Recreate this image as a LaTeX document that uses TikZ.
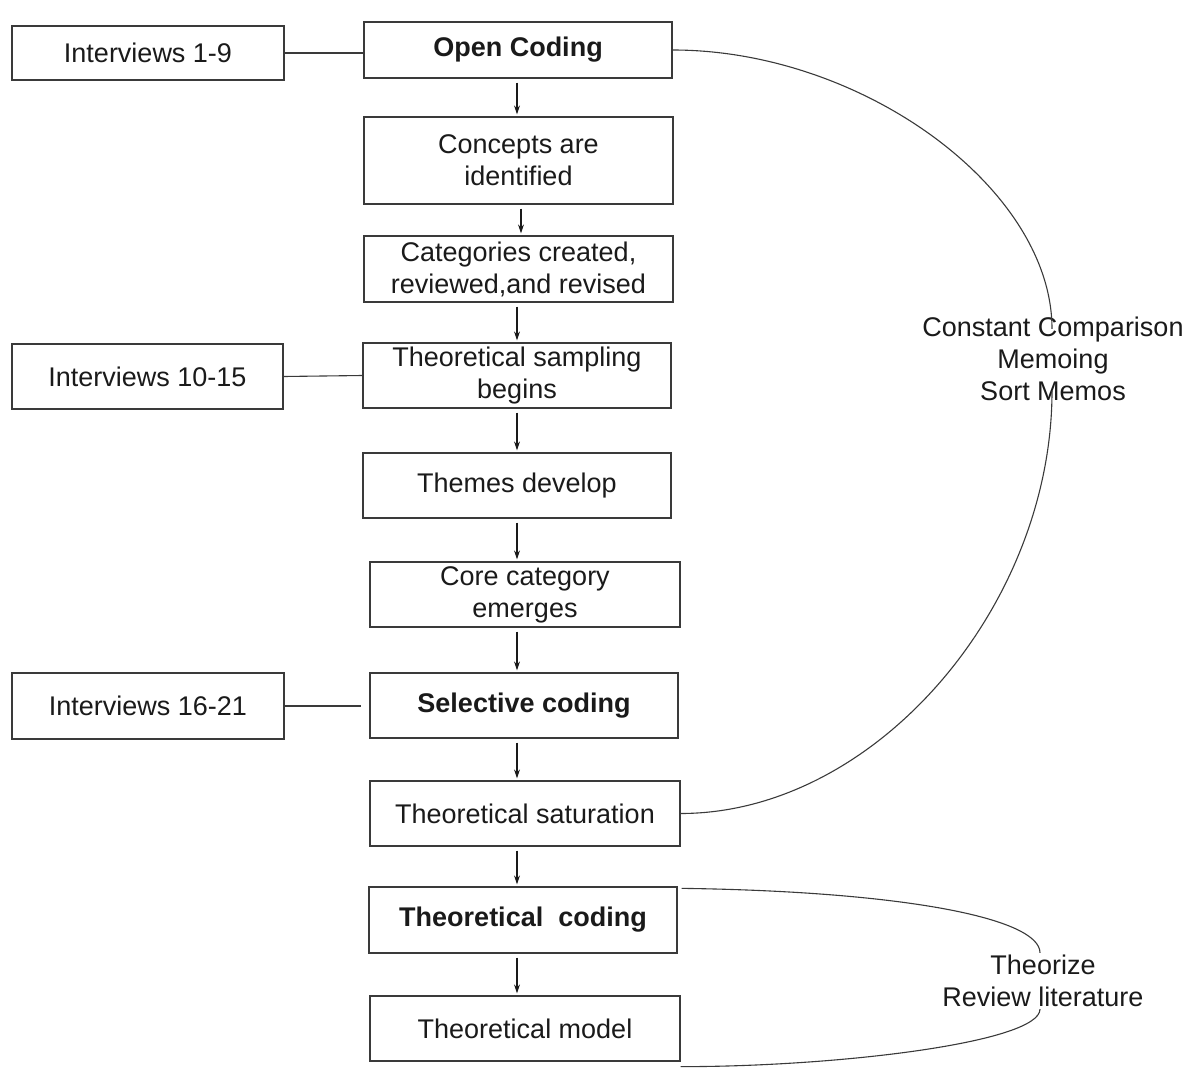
\documentclass[tikz,border=0pt]{standalone}
\usepackage{fontspec}
\setmainfont{Liberation Sans}
\usetikzlibrary{arrows.meta,calc}
\definecolor{boxc}{HTML}{3A3A3A}
\definecolor{txtc}{HTML}{1A1A1A}
\begin{document}
\begin{tikzpicture}[x=1pt,y=-1pt,
  box/.style 2 args={draw=boxc, line width=1.3pt, minimum width=#1pt, minimum height=#2pt,
    inner sep=0pt, align=center, text=txtc, font=\fontsize{27}{32}\selectfont},
  lbl/.style={inner sep=0pt, align=center, text=txtc, font=\fontsize{27}{32}\selectfont},
  link/.style={draw=boxc, line width=1.1pt},
  arr/.style={draw=txtc, line width=1.1pt, -{Stealth[length=9pt,width=6pt]}, shorten <=4pt, shorten >=2pt},
  curve/.style={draw=boxc, line width=1.1pt}]
\useasboundingbox (0,0) rectangle (1193,1078);

% left interview boxes
\node[box={272}{54}] (i1) at (148,53) {Interviews 1-9};
\node[box={271}{65}] (i2) at (147.5,376.5) {Interviews 10-15};
\node[box={272}{66}] (i3) at (148,706) {Interviews 16-21};

% main column
\node[box={308}{56}] (open) at (518,50) {\bfseries Open Coding};
\node[box={309}{87}] (concepts) at (518.5,160.5) {Concepts are\\identified};
\node[box={309}{66}] (categories) at (518.5,269) {Categories created,\\reviewed,and revised};
\node[box={308}{65}] (sampling) at (517,375.5) {Theoretical sampling\\begins};
\node[box={308}{65}] (themes) at (517,485.5) {Themes develop};
\node[box={310}{65}] (core) at (525,594.5) {Core category\\emerges};
\node[box={308}{65}] (selective) at (524,705.5) {\bfseries Selective coding};
\node[box={310}{65}] (saturation) at (525,813.5) {Theoretical saturation};
\node[box={308}{66}] (tcoding) at (523,920) {\bfseries Theoretical\ \ coding};
\node[box={310}{65}] (model) at (525,1028.5) {Theoretical model};

% side labels
\node[lbl] (cc) at (1053,359) {Constant Comparison\\Memoing\\Sort Memos};
\node[lbl] (th) at (1043,981) {Theorize\\Review literature};

% interview links
\draw[link] (i1.east) -- (i1.east -| open.west);
\draw[link] (i2.east) -- (sampling.west);
\draw[link, shorten >=8pt] (i3.east) -- (i3.east -| selective.west);

% arrows down the column
\coordinate (ax) at (517,0);
\draw[arr] (open.south -| ax) -- (concepts.north -| ax);
\draw[arr] ($(concepts.south -| ax)+(4,0)$) -- ($(categories.north -| ax)+(4,0)$);
\draw[arr] (categories.south -| ax) -- (sampling.north -| ax);
\draw[arr] (sampling.south -| ax) -- (themes.north -| ax);
\draw[arr] (themes.south -| ax) -- (core.north -| ax);
\draw[arr] (core.south -| ax) -- (selective.north -| ax);
\draw[arr] (selective.south -| ax) -- (saturation.north -| ax);
\draw[arr] (saturation.south -| ax) -- (tcoding.north -| ax);
\draw[arr] (tcoding.south -| ax) -- (model.north -| ax);

% big loop
\draw[curve] (open.east) .. controls +(190,0) and +(0,-140) .. ($(cc.north)+(-1,12)$);
\draw[curve] ($(cc.south)+(-1,-10)$) .. controls +(0,215) and +(195,0) .. (saturation.east);

% small loop
\draw[curve] ($(tcoding.north east)+(4,2)$) .. controls +(220,3) and +(0,-35) .. ($(th.north)+(-3,-2)$);
\draw[curve] ($(th.south)+(-3,2)$) .. controls +(0,33) and +(160,0) .. ($(model.south east)+(0,5)$);
\end{tikzpicture}
\end{document}
